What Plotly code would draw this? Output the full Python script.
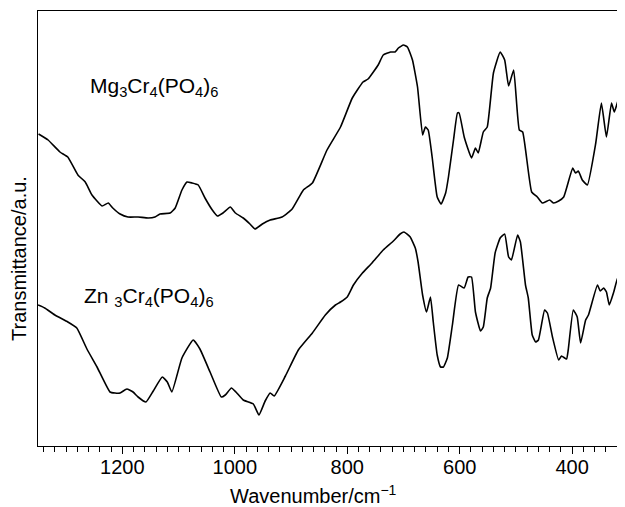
import plotly.graph_objects as go

# Wavenumber (cm^-1) and transmittance (arbitrary units)
mg_wn = [1349, 1332, 1311, 1297, 1279, 1266, 1254, 1236, 1225, 1217, 1204, 1190, 1172, 1154, 1142,
         1133, 1115, 1106, 1094, 1085, 1076, 1065, 1053, 1040, 1031, 1021, 1008, 999, 985, 973,
         964, 951, 937, 916, 898, 878, 862, 836, 812, 791, 772, 763, 745, 736, 723,
         715, 709, 700, 693, 684, 675, 666, 661, 656, 649, 640, 633, 625, 620, 611,
         604, 601, 592, 579, 572, 567, 558, 551, 540, 528, 520, 513, 504, 494, 488,
         472, 462, 453, 440, 433, 424, 415, 399, 394, 389, 382, 373, 358, 348, 339,
         330, 325, 316, 307, 303]
mg_t = [312, 306, 294, 289, 271, 264, 251, 240, 243, 238, 232, 229, 229, 228, 229,
        232, 233, 238, 256, 264, 263, 261, 248, 236, 230, 233, 239, 233, 228, 222,
        217, 222, 226, 229, 237, 256, 263, 296, 319, 348, 364, 367, 381, 391, 394,
        394, 398, 401, 399, 386, 359, 311, 319, 316, 289, 249, 242, 253, 269, 306,
        333, 333, 309, 288, 298, 293, 314, 319, 373, 394, 386, 360, 376, 316, 314,
        254, 249, 243, 246, 243, 245, 249, 278, 273, 275, 266, 261, 303, 343, 309,
        343, 334, 349, 324, 321]

zn_wn = [1350, 1338, 1320, 1297, 1281, 1263, 1245, 1222, 1213, 1204, 1192, 1181, 1172, 1158, 1145,
         1129, 1120, 1112, 1094, 1074, 1062, 1044, 1024, 1017, 1006, 998, 985, 967, 957, 946,
         937, 930, 910, 887, 862, 839, 821, 812, 800, 789, 773, 756, 736, 718, 706,
         699, 688, 679, 674, 666, 659, 652, 647, 640, 634, 629, 622, 613, 602, 592,
         585, 579, 572, 563, 558, 551, 545, 537, 528, 520, 513, 508, 497, 492, 483,
         478, 471, 465, 460, 449, 444, 435, 424, 419, 410, 407, 398, 391, 385, 376,
         371, 355, 350, 344, 339, 334, 326, 319, 316, 310, 305]
zn_t = [141, 138, 131, 124, 118, 97, 79, 54, 53, 53, 57, 54, 49, 44, 55,
        69, 64, 54, 88, 106, 97, 74, 49, 51, 58, 54, 46, 42, 31, 45,
        53, 50, 70, 96, 113, 131, 141, 144, 149, 161, 173, 183, 196, 205, 212,
        214, 209, 198, 184, 151, 134, 149, 124, 91, 79, 79, 88, 121, 161, 158,
        169, 169, 134, 115, 119, 148, 158, 193, 208, 212, 189, 186, 211, 204, 161,
        148, 111, 104, 106, 136, 133, 109, 86, 90, 87, 96, 136, 129, 103, 126,
        131, 161, 155, 158, 154, 141, 154, 168, 168, 155, 173]

x_ticks = [1200, 1000, 800, 600, 400]
x_range = [1350, 306]
y_range = [0, 435]

FONT = "Liberation Sans, Arial, Helvetica, sans-serif"

# the page body adds an 8px offset; size the figure so the plot frame lands
# where the reference has it (left 38, top 11, bottom 446, right edge of window)
W, H = 617, 499
ML, MT, MB = 30, 3, 61
PW, PH = W - ML, H - MT - MB

def px(x):
    return (x - 8 - ML) / PW

def py(y):
    return (H - MB + 8 - y) / PH

line_style = dict(color="black", width=1.6, shape="spline", smoothing=0.4)

fig = go.Figure()
fig.add_trace(go.Scatter(x=mg_wn, y=mg_t, mode="lines", line=line_style, showlegend=False))
fig.add_trace(go.Scatter(x=zn_wn, y=zn_t, mode="lines", line=line_style, showlegend=False))

fig.update_layout(
    width=W, height=H,
    margin=dict(l=ML, r=0, t=MT, b=MB, pad=0),
    paper_bgcolor="white", plot_bgcolor="white",
    font=dict(family=FONT, color="black", size=20),
    xaxis=dict(range=x_range, tickvals=x_ticks, ticks="outside", ticklen=7,
               tickwidth=1, tickcolor="black", showline=True, linecolor="black",
               linewidth=1.2, mirror=True, showgrid=False, zeroline=False,
               tickfont=dict(size=20, family=FONT), ticklabelstandoff=-4,
               minor=dict(dtick=20, tick0=0, ticks="outside", ticklen=5,
                          tickwidth=1, tickcolor="black", showgrid=False)),
    yaxis=dict(range=y_range, showticklabels=False, ticks="", showline=True,
               linecolor="black", linewidth=1.2, showgrid=False, zeroline=False),
    annotations=[
        dict(text="Mg<sub>3</sub>Cr<sub>4</sub>(PO<sub>4</sub>)<sub>6</sub>",
             xref="paper", yref="paper", x=px(88), y=py(87),
             xanchor="left", yanchor="middle", showarrow=False,
             font=dict(size=21, family=FONT)),
        dict(text="Zn <sub>3</sub>Cr<sub>4</sub>(PO<sub>4</sub>)<sub>6</sub>",
             xref="paper", yref="paper", x=px(82), y=py(297),
             xanchor="left", yanchor="middle", showarrow=False,
             font=dict(size=21, family=FONT)),
        dict(text="Transmittance/a.u.", textangle=-90,
             xref="paper", yref="paper", x=px(19), y=py(259),
             xanchor="center", yanchor="middle", showarrow=False,
             font=dict(size=20, family=FONT)),
        dict(text="Wavenumber/cm<sup>\u22121</sup>",
             xref="paper", yref="paper", x=px(313), y=py(494),
             xanchor="center", yanchor="middle", showarrow=False,
             font=dict(size=20, family=FONT)),
    ],
)

fig.write_html("out.html")
